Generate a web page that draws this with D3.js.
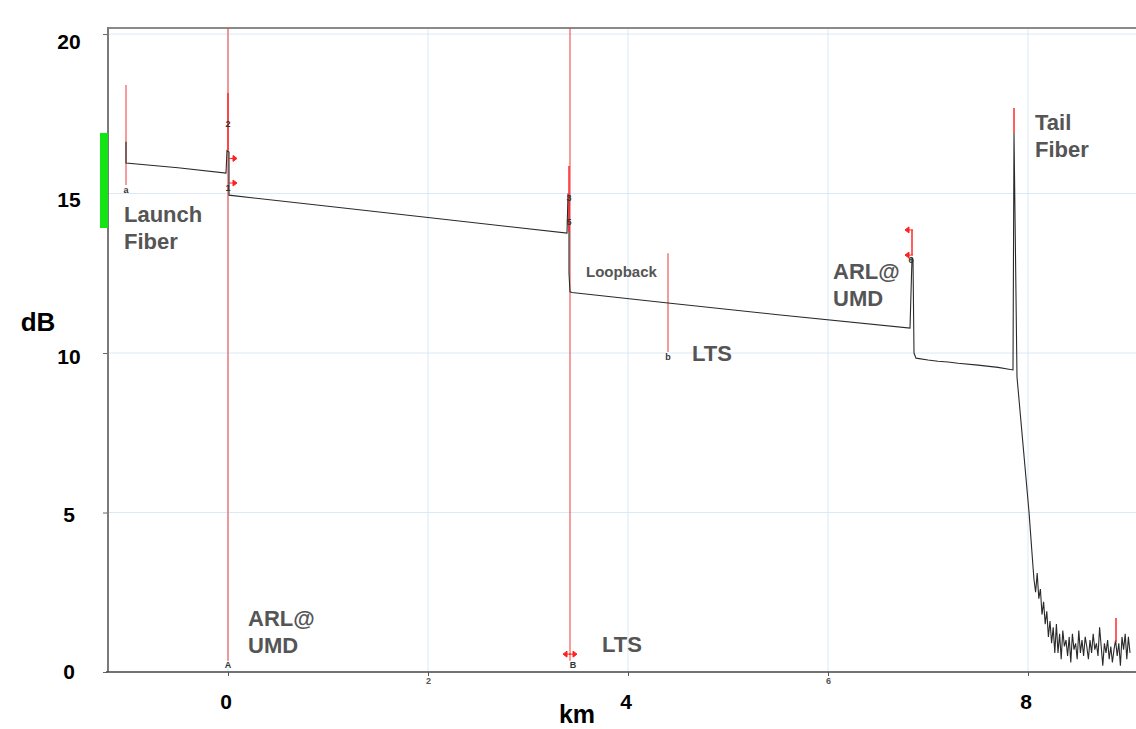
<!DOCTYPE html>
<html>
<head>
<meta charset="utf-8">
<script src="https://d3js.org/d3.v7.min.js"></script>
<style>
  html, body { margin: 0; padding: 0; background: #fff; }
  svg { display: block; font-family: "Liberation Sans", Arial, sans-serif; }
</style>
</head>
<body>
<div id="chart"></div>
<script>
// OTDR trace, km vs dB
const traceKmDb = [
  [-1.02, 16.62], [-1.02, 15.96], [-0.50, 15.81], [-0.02, 15.64],
  [-0.01, 16.35], [0.01, 16.30], [0.01, 14.95], [1.00, 14.60],
  [2.00, 14.25], [3.39, 13.76], [3.40, 15.00], [3.41, 14.90],
  [3.41, 12.50], [3.42, 11.92], [3.44, 11.90], [4.40, 11.57],
  [5.50, 11.20], [6.82, 10.78], [6.84, 12.98], [6.85, 12.95],
  [6.86, 10.00], [6.88, 9.84], [7.00, 9.78], [7.10, 9.74],
  [7.20, 9.72], [7.30, 9.68], [7.50, 9.62], [7.70, 9.55],
  [7.85, 9.47], [7.86, 16.90], [7.89, 9.25], [8.01, 5.02],
  [8.05, 3.30]
];
// noise floor after the fibre end
const noiseStartKm = 8.06;
const noiseStepKm = 0.016;
const noiseDb = [
  2.9, 2.5, 3.1, 2.3, 2.6, 1.8, 2.2, 1.5, 1.9, 1.1, 1.6, 0.9, 1.4, 0.6, 1.5,
  0.6, 1.2, 0.4, 1.3, 0.8, 1.0, 0.5, 1.1, 0.3, 1.2, 0.7, 0.9, 0.4, 1.3, 0.6,
  1.0, 0.5, 1.1, 0.8, 0.4, 1.0, 0.6, 1.2, 0.7, 0.9, 0.5, 1.4, 0.8, 0.2, 0.9,
  0.6, 1.0, 0.4, 0.8, 0.3, 0.7, 1.0, 0.5, 0.9, 0.2, 1.1, 0.7, 1.2, 0.4, 1.1, 0.6
];

const xGridKm = [0, 2, 4, 6, 8];
const xSmallLabels = [2, 6];
const xBigLabels = [0, 4, 8];
const yTicksDb = [0, 5, 10, 15, 20];

// full-height markers A / B
const fullMarkers = [
  { km: 0.00, label: "A" },
  { km: 3.42, label: "B" }
];
// cursor lines a / b
const cursors = [
  { km: -1.02, from: 15.27, to: 18.40, label: "a" },
  { km: 4.40, from: 10.03, to: 13.13, label: "b" }
];
// bright red event segments
const eventSegs = [
  { km: 0.00, from: 16.36, to: 18.15 },
  { km: 3.41, from: 13.80, to: 15.86 },
  { km: 7.86, from: 16.90, to: 17.68 },
  { km: 8.88, from: 0.94, to: 1.69 },
  { km: 6.84, from: 13.07, to: 13.86 }
];
const eventNums = [
  { km: 0.00, db: 17.18, t: "2" },
  { km: 0.00, db: 15.17, t: "1" },
  { km: 3.41, db: 14.86, t: "3" },
  { km: 3.41, db: 14.10, t: "5" },
  { km: 6.83, db: 12.92, t: "6" }
];
const arrows = [
  { km: 0.04, db: 16.10, dir: 1 },
  { km: 0.04, db: 15.33, dir: 1 },
  { km: 6.82, db: 13.86, dir: -1 },
  { km: 6.82, db: 13.07, dir: -1 },
  { km: 3.40, db: 0.56, dir: -1 },
  { km: 3.44, db: 0.56, dir: 1 }
];
const notes = [
  { km: -1.04, db: 14.12, lines: ["Launch", "Fiber"], size: 22 },
  { km: 0.20, db: 1.44, lines: ["ARL@", "UMD"], size: 22 },
  { km: 3.74, db: 0.63, lines: ["LTS"], size: 22 },
  { km: 3.58, db: 12.38, lines: ["Loopback"], size: 15 },
  { km: 4.64, db: 9.75, lines: ["LTS"], size: 22 },
  { km: 6.05, db: 12.31, lines: ["ARL@", "UMD"], size: 22 },
  { km: 8.07, db: 16.99, lines: ["Tail", "Fiber"], size: 22 }
];
const readyBand = { from: 13.92, to: 16.9 };

const W = 1136, H = 729;
const svg = d3.select("#chart").append("svg").attr("width", W).attr("height", H);

const x = d3.scaleLinear().domain([-1.2, 9.08]).range([108, 1136]);
const y = d3.scaleLinear().domain([0, 20.19]).range([672, 28]);
const yLab = d3.scaleLinear().domain([0, 20]).range([y(0), y(20) + 8]);

// grid
svg.append("g").selectAll("line").data(xGridKm).join("line")
  .attr("x1", d => x(d)).attr("x2", d => x(d))
  .attr("y1", y.range()[1]).attr("y2", y(0))
  .attr("stroke", "#dbe8f5").attr("stroke-width", 1);
svg.append("g").selectAll("line").data(yTicksDb.slice(1)).join("line")
  .attr("x1", x.range()[0]).attr("x2", x.range()[1])
  .attr("y1", d => y(d)).attr("y2", d => y(d))
  .attr("stroke", "#dbe8f5").attr("stroke-width", 1);

// frame
svg.append("line").attr("x1", x.range()[0]).attr("x2", W)
  .attr("y1", 28).attr("y2", 28).attr("stroke", "#8a8a8a").attr("stroke-width", 2);
svg.append("line").attr("x1", 108).attr("x2", 108)
  .attr("y1", 27).attr("y2", y(0)).attr("stroke", "#7a7a7a").attr("stroke-width", 2);

// left ticks
const yAxis = svg.append("g").attr("transform", "translate(107,0)")
  .call(d3.axisLeft(y).tickValues(yTicksDb).tickSize(4).tickFormat(""));
yAxis.select(".domain").remove();
yAxis.selectAll("line").attr("stroke", "#666");

// bottom axis
const xAxis = svg.append("g").attr("transform", `translate(0,${y(0)})`)
  .call(d3.axisBottom(x).tickValues(xGridKm).tickSize(4)
    .tickFormat(d => xSmallLabels.includes(d) ? d : ""));
xAxis.select(".domain").attr("d", `M106,0H${W}`).attr("stroke", "#444").attr("stroke-width", 1.5);
xAxis.selectAll("line").attr("stroke", "#555");
xAxis.selectAll("text").attr("font-size", 9).attr("fill", "#555").attr("font-weight", "bold").attr("dy", "0.55em");

// green band
svg.append("rect").attr("x", 100).attr("width", 8)
  .attr("y", y(readyBand.to)).attr("height", y(readyBand.from) - y(readyBand.to))
  .attr("fill", "#14e314");

// full markers
svg.append("g").selectAll("line").data(fullMarkers).join("line")
  .attr("x1", d => x(d.km)).attr("x2", d => x(d.km))
  .attr("y1", 28).attr("y2", y(0.35))
  .attr("stroke", "#f03c3c").attr("stroke-width", 1);
svg.append("g").selectAll("text").data(fullMarkers).join("text")
  .attr("x", d => x(d.km) + (d.label === "B" ? 3 : 0)).attr("y", y(0) - 4)
  .attr("text-anchor", "middle").attr("font-size", 9).attr("font-weight", "bold")
  .attr("fill", "#333").text(d => d.label);

// cursors
svg.append("g").selectAll("line").data(cursors).join("line")
  .attr("x1", d => x(d.km)).attr("x2", d => x(d.km))
  .attr("y1", d => y(d.to)).attr("y2", d => y(d.from))
  .attr("stroke", "#f37a7a").attr("stroke-width", 1.5);
svg.append("g").selectAll("text").data(cursors).join("text")
  .attr("x", d => x(d.km)).attr("y", d => y(d.from) + 8)
  .attr("text-anchor", "middle").attr("font-size", 9).attr("font-weight", "bold")
  .attr("fill", "#333").text(d => d.label);

// trace
const tracePts = traceKmDb.concat(noiseDb.map((v, i) => [noiseStartKm + i * noiseStepKm, v]));
svg.append("path").datum(tracePts)
  .attr("d", d3.line().x(d => x(d[0])).y(d => y(d[1])))
  .attr("fill", "none").attr("stroke", "#2a2a2a").attr("stroke-width", 1.1);

// event segments
svg.append("g").selectAll("line").data(eventSegs).join("line")
  .attr("x1", d => x(d.km)).attr("x2", d => x(d.km))
  .attr("y1", d => y(d.to)).attr("y2", d => y(d.from))
  .attr("stroke", "#ff2a2a").attr("stroke-width", 1.5);

// arrows
svg.append("g").selectAll("path").data(arrows).join("path")
  .attr("transform", d => `translate(${x(d.km)},${y(d.db)})`)
  .attr("d", d => d.dir > 0 ? "M-3,0H1M1,-3L5,0L1,3Z" : "M3,0H-1M-1,-3L-5,0L-1,3Z")
  .attr("fill", "#ff2020").attr("stroke", "#ff2020").attr("stroke-width", 1);

// event numbers
svg.append("g").selectAll("text").data(eventNums).join("text")
  .attr("x", d => x(d.km)).attr("y", d => y(d.db) + 3)
  .attr("text-anchor", "middle").attr("font-size", 9).attr("font-weight", "bold")
  .attr("fill", "#333").text(d => d.t);

// annotations
const noteG = svg.append("g").selectAll("text").data(notes).join("text")
  .attr("x", d => x(d.km)).attr("y", d => y(d.db))
  .attr("font-size", d => d.size).attr("font-weight", "bold").attr("fill", "#555");
noteG.selectAll("tspan").data(d => d.lines).join("tspan")
  .attr("x", function () { return this.parentNode.getAttribute("x"); })
  .attr("dy", (d, i) => i === 0 ? 0 : 27).text(d => d);

// big tick labels
svg.append("g").selectAll("text").data(yTicksDb).join("text")
  .attr("x", 69).attr("y", d => yLab(d) + 7)
  .attr("text-anchor", "middle").attr("font-size", 21).attr("font-weight", "bold")
  .attr("fill", "#000").text(d => d);
svg.append("g").selectAll("text").data(xBigLabels).join("text")
  .attr("x", d => x(d) - 2).attr("y", 709)
  .attr("text-anchor", "middle").attr("font-size", 21).attr("font-weight", "bold")
  .attr("fill", "#000").text(d => d);

// axis titles
svg.append("text").attr("x", 38).attr("y", 331).attr("text-anchor", "middle")
  .attr("font-size", 26).attr("font-weight", "bold").attr("fill", "#000").text("dB");
svg.append("text").attr("x", 577).attr("y", 723).attr("text-anchor", "middle")
  .attr("font-size", 25).attr("font-weight", "bold").attr("fill", "#000").text("km");
</script>
</body>
</html>
